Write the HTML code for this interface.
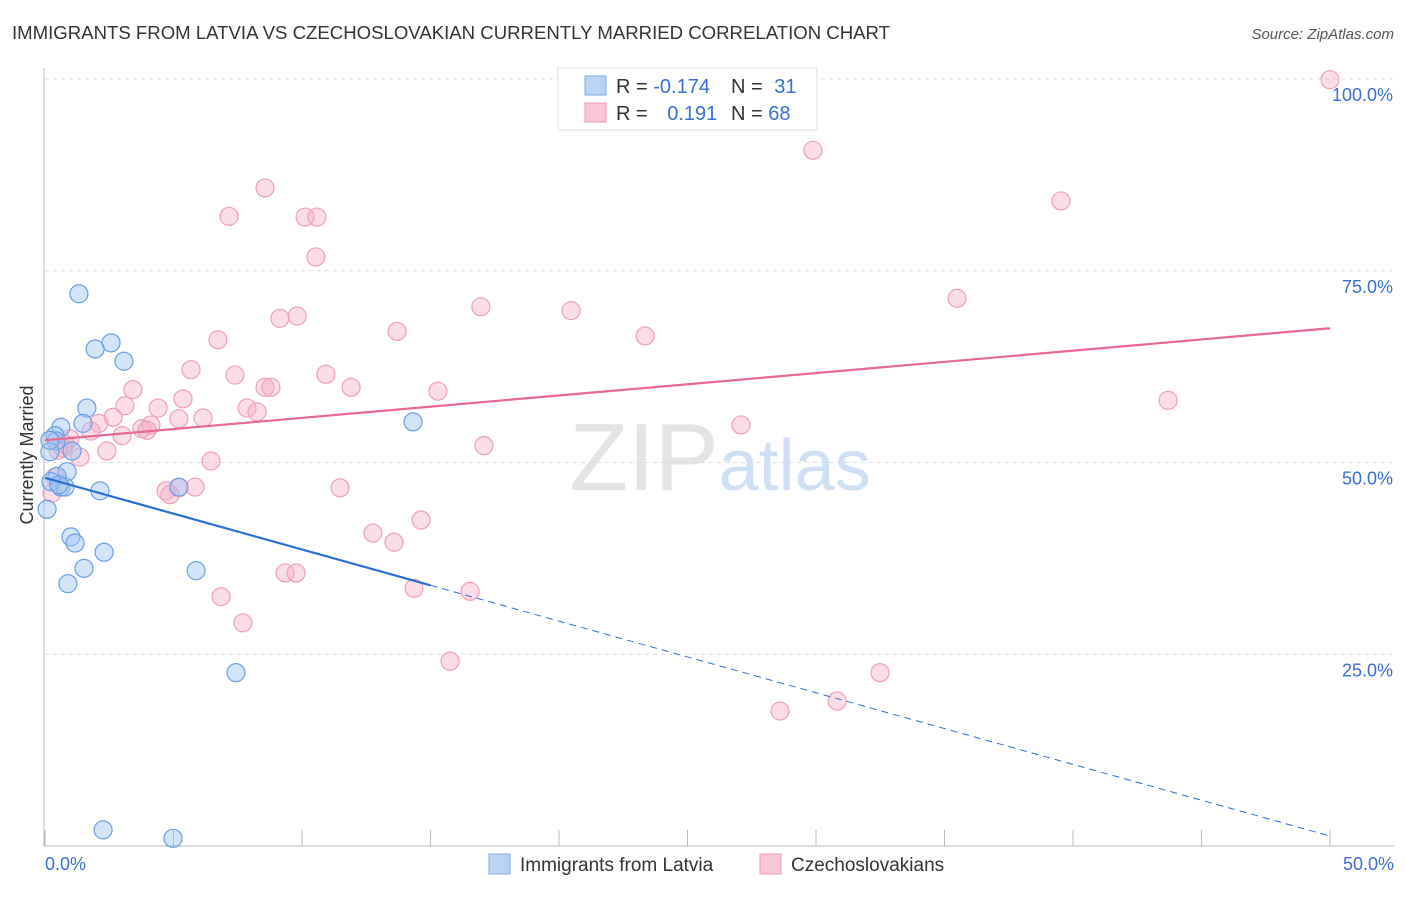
<!DOCTYPE html>
<html><head><meta charset="utf-8"><style>
body{margin:0;background:#fff;font-family:"Liberation Sans",sans-serif}
svg text{font-family:"Liberation Sans",sans-serif}
</style></head><body>
<svg id="chart" width="1406" height="892" xmlns="http://www.w3.org/2000/svg">
<text x="12" y="39" font-size="18" fill="#333" textLength="878" lengthAdjust="spacingAndGlyphs">IMMIGRANTS FROM LATVIA VS CZECHOSLOVAKIAN CURRENTLY MARRIED CORRELATION CHART</text>
<text x="1394" y="39" font-size="15" fill="#555" font-style="italic" text-anchor="end">Source: ZipAtlas.com</text>
<text x="720" y="490" font-size="96" text-anchor="middle" fill="#e4e4e4" font-family="Liberation Serif"><tspan>ZIP</tspan><tspan fill="#d0e0f4" font-family="Liberation Sans" font-size="72">atlas</tspan></text>
<g id="grid"></g>
<g id="axes"></g>
<g id="pts"></g>
<g id="trend"></g>
<text transform="translate(33,455) rotate(-90)" font-size="18" fill="#333" text-anchor="middle">Currently Married</text>
<g>
<rect x="558" y="68" width="259" height="62" fill="#fff" stroke="#ddd"/>
<rect x="585" y="76" width="21" height="19" fill="#b8d3f5" stroke="#7fa9e6"/>
<rect x="585" y="103" width="21" height="19" fill="#f9c6d6" stroke="#ee9ab5"/>
<text x="616" y="93" font-size="20" fill="#333">R = <tspan fill="#3a6fd4">-0.174</tspan></text>
<text x="731" y="93" font-size="20" fill="#333">N = <tspan fill="#3a6fd4" dx="6">31</tspan></text>
<text x="616" y="120" font-size="20" fill="#333">R = <tspan fill="#3a6fd4" dx="14">0.191</tspan></text>
<text x="731" y="120" font-size="20" fill="#333">N = <tspan fill="#3a6fd4">68</tspan></text>
</g>
<g>
<rect x="489" y="854" width="21" height="20" fill="#b8d3f5" stroke="#7fa9e6"/>
<text x="520" y="871" font-size="19" fill="#333">Immigrants from Latvia</text>
<rect x="760" y="854" width="21" height="20" fill="#f9c6d6" stroke="#ee9ab5"/>
<text x="791" y="871" font-size="19" fill="#333">Czechoslovakians</text>
</g>
</svg>
<script>
const yTicks=[25,50,75,100];
const yTickLabels=["25.0%","50.0%","75.0%","100.0%"];
const xTickLabels=["0.0%","50.0%"];
const latviaX=[1.32,2.57,1.95,3.07,1.63,0.62,0.39,1.48,0.43,0.19,1.05,0.86,0.47,0.62,0.78,2.14,5.21,14.32,1.01,1.17,2.30,1.52,0.89,5.88,7.43,2.26,4.98,0.08,0.23,0.54,0.19];
const latviaY=[72.0,65.6,64.8,63.2,57.1,54.6,53.5,55.1,52.8,51.4,51.5,48.8,48.2,46.8,46.8,46.3,46.8,55.3,40.3,39.5,38.3,36.2,34.2,35.9,22.6,2.1,1.0,43.9,47.5,47.1,52.9];
const czechX=[50.0,29.88,8.56,39.53,7.16,10.12,10.58,10.54,35.49,16.96,20.47,9.14,9.81,13.70,23.35,6.73,5.68,7.39,10.93,3.42,8.56,8.79,11.91,15.29,5.37,3.11,4.40,7.86,8.25,2.65,6.15,5.21,2.10,4.12,3.77,3.97,27.08,1.79,3.00,0.97,0.78,2.41,17.08,1.36,6.46,11.48,5.21,5.84,4.71,4.86,0.27,0.39,14.63,12.76,13.58,9.34,9.77,14.36,16.54,6.85,7.70,15.76,32.49,30.82,28.60,43.70,0.70,0.51];
const czechY=[99.9,90.7,85.8,84.1,82.1,82.0,82.0,76.8,71.4,70.3,69.8,68.8,69.1,67.1,66.5,66.0,62.1,61.4,61.5,59.5,59.8,59.8,59.8,59.3,58.3,57.4,57.1,57.1,56.6,55.9,55.8,55.7,55.1,54.9,54.4,54.2,54.9,54.1,53.5,53.1,52.4,51.5,52.2,50.7,50.2,46.7,46.7,46.8,46.3,45.8,46.0,48.1,42.5,40.8,39.6,35.6,35.6,33.6,33.2,32.5,29.1,24.1,22.6,18.9,17.6,58.1,51.9,51.6];
const latviaTrend=[48.0,1.3];
const czechTrend=[52.9,67.5];
const NS="http://www.w3.org/2000/svg";
const X=v=>45+v*25.7, Y=v=>846-v*7.67;
function mk(t,a,p){const e=document.createElementNS(NS,t);for(const k in a)e.setAttribute(k,a[k]);document.getElementById(p).appendChild(e);return e;}
yTicks.forEach((t,i)=>{
  const l=mk('line',{x1:45,x2:1394,y1:Y(t),y2:Y(t),stroke:'#ddd','stroke-dasharray':'4,4'},'grid');
  
  
  const tx=mk('text',{x:1393,y:Y(t)+22,'font-size':18,fill:'#3a6fd4','text-anchor':'end'},'axes');
  tx.textContent=yTickLabels[i];
  
  
});
const ax=mk('line',{x1:44,x2:44,y1:68,y2:846,stroke:'#bbb'},'axes');


const bx=mk('line',{x1:44,x2:1394,y1:846,y2:846,stroke:'#bbb'},'axes');


for(let i=0;i<=10;i++){const t=mk('line',{x1:X(i*5),x2:X(i*5),y1:830,y2:846,stroke:'#bbb'},'axes');
  
  }
[[0,'start',45],[1,'end',1394]].forEach(([i,a,x])=>{const t=mk('text',{x:x,y:870,'font-size':18,fill:'#3a6fd4','text-anchor':a},'axes');t.textContent=xTickLabels[i];
  
  });
czechX.forEach((v,i)=>{const c=mk('circle',{cx:X(v),cy:Y(czechY[i]),r:9,fill:'rgba(246,170,195,0.4)',stroke:'#eea0ba','stroke-width':1.2},'pts');
  
  });
latviaX.forEach((v,i)=>{const c=mk('circle',{cx:X(v),cy:Y(latviaY[i]),r:9,fill:'rgba(160,195,240,0.45)',stroke:'#6a9ee6','stroke-width':1.2},'pts');
  
  });
const ly=x=>latviaTrend[0]+(latviaTrend[1]-latviaTrend[0])*x/50;
const t1=mk('line',{x1:X(0),y1:Y(ly(0)),x2:X(15),y2:Y(ly(15)),stroke:'#2a6fd6','stroke-width':2.2},'trend');


const t2=mk('line',{x1:X(15),y1:Y(ly(15)),x2:X(50),y2:Y(ly(50)),stroke:'#2a6fd6','stroke-width':1,'stroke-dasharray':'7,5'},'trend');


const t3=mk('line',{x1:X(0),y1:Y(czechTrend[0]),x2:X(50),y2:Y(czechTrend[1]),stroke:'#e8688f','stroke-width':2.2},'trend');


</script>
</body></html>
